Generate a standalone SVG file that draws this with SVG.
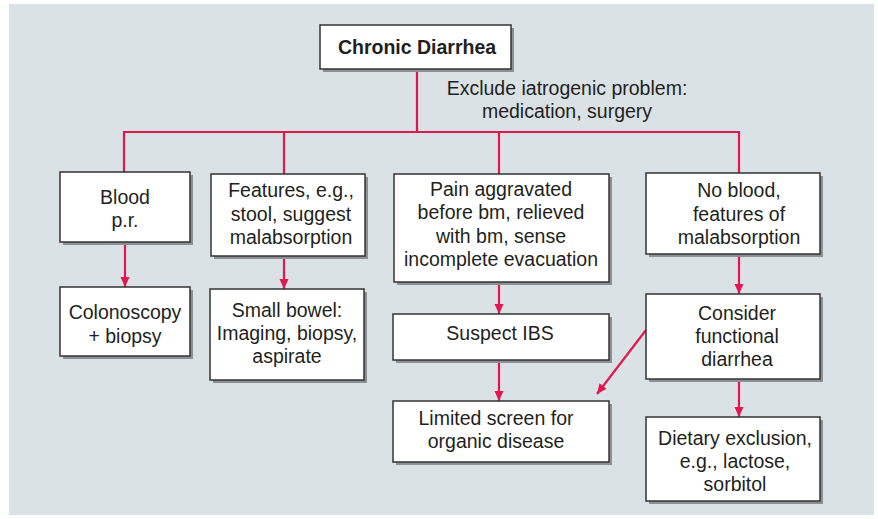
<svg xmlns="http://www.w3.org/2000/svg" width="878" height="519" viewBox="0 0 878 519">
  <defs>
    <marker id="arrow" viewBox="0 0 10 10" refX="10" refY="5" markerWidth="10" markerHeight="10" markerUnits="userSpaceOnUse" orient="auto">
      <path d="M0,0.5 L10,5 L0,9.5 Z" fill="#e3174f"/>
    </marker>
  </defs>
  <style>
    .panel { fill: #dae2e6; }
    .shadow { fill: #8c9094; }
    .box { fill: #ffffff; stroke: #333333; stroke-width: 1.5; }
    .txt { font-family: "Liberation Sans", Arial, sans-serif; font-size: 19.5px; fill: #231f20; text-anchor: middle; }
    .bold { font-weight: bold; }
    .wire { fill: none; stroke: #e3174f; stroke-width: 2.2; }
    .arr { marker-end: url(#arrow); }
  </style>

  <rect class="panel" x="9" y="4" width="865" height="511"/>

  <!-- connectors -->
  <g id="connectors">
    <path class="wire" d="M417,69 V132 M124,132 H740 M124,131 V172 M284,131 V174 M499,131 V174 M739,131 V173"/>
    <path class="wire arr" d="M125,243 V287"/>
    <path class="wire arr" d="M284,257 V289"/>
    <path class="wire arr" d="M499,283 V314"/>
    <path class="wire arr" d="M499,361 V401"/>
    <path class="wire arr" d="M739,255 V294"/>
    <path class="wire arr" d="M739,380 V417"/>
    <path class="wire arr" d="M646,330 L597,394"/>
  </g>

  <text class="txt" x="567" y="95">Exclude iatrogenic problem:</text>
  <text class="txt" x="567" y="118">medication, surgery</text>

  <g id="chronic-diarrhea">
    <rect class="shadow" x="323" y="28" width="191" height="44"/>
    <rect class="box" x="320" y="25" width="191" height="44"/>
    <text class="txt bold" x="417" y="54">Chronic Diarrhea</text>
  </g>

  <g id="blood">
    <rect class="shadow" x="63" y="175" width="130" height="70"/>
    <rect class="box" x="60" y="172" width="130" height="70"/>
    <text class="txt" x="125" y="204">Blood</text>
    <text class="txt" x="125" y="227">p.r.</text>
  </g>

  <g id="features">
    <rect class="shadow" x="214" y="177" width="154" height="82"/>
    <rect class="box" x="211" y="174" width="154" height="82"/>
    <text class="txt" x="291" y="197">Features, e.g.,</text>
    <text class="txt" x="291" y="221">stool, suggest</text>
    <text class="txt" x="291" y="244">malabsorption</text>
  </g>

  <g id="pain">
    <rect class="shadow" x="397" y="177" width="215" height="108"/>
    <rect class="box" x="394" y="174" width="215" height="108"/>
    <text class="txt" x="501" y="196">Pain aggravated</text>
    <text class="txt" x="501" y="219">before bm, relieved</text>
    <text class="txt" x="501" y="243">with bm, sense</text>
    <text class="txt" x="501" y="266">incomplete evacuation</text>
  </g>

  <g id="no-blood">
    <rect class="shadow" x="649" y="176" width="174" height="81"/>
    <rect class="box" x="646" y="173" width="174" height="81"/>
    <text class="txt" x="739" y="197">No blood,</text>
    <text class="txt" x="739" y="221">features of</text>
    <text class="txt" x="739" y="244">malabsorption</text>
  </g>

  <g id="colonoscopy">
    <rect class="shadow" x="63" y="290" width="130" height="69"/>
    <rect class="box" x="60" y="287" width="130" height="69"/>
    <text class="txt" x="125" y="319">Colonoscopy</text>
    <text class="txt" x="125" y="343">+ biopsy</text>
  </g>

  <g id="small-bowel">
    <rect class="shadow" x="213" y="292" width="154" height="91"/>
    <rect class="box" x="210" y="289" width="154" height="91"/>
    <text class="txt" x="287" y="317">Small bowel:</text>
    <text class="txt" x="287" y="340">Imaging, biopsy,</text>
    <text class="txt" x="287" y="363">aspirate</text>
  </g>

  <g id="suspect-ibs">
    <rect class="shadow" x="396" y="317" width="216" height="46"/>
    <rect class="box" x="393" y="314" width="216" height="46"/>
    <text class="txt" x="500" y="340">Suspect IBS</text>
  </g>

  <g id="limited-screen">
    <rect class="shadow" x="396" y="404" width="216" height="61"/>
    <rect class="box" x="393" y="401" width="216" height="61"/>
    <text class="txt" x="496" y="425">Limited screen for</text>
    <text class="txt" x="496" y="448">organic disease</text>
  </g>

  <g id="functional">
    <rect class="shadow" x="649" y="297" width="174" height="85"/>
    <rect class="box" x="646" y="294" width="174" height="85"/>
    <text class="txt" x="737" y="320">Consider</text>
    <text class="txt" x="737" y="343">functional</text>
    <text class="txt" x="737" y="366">diarrhea</text>
  </g>

  <g id="dietary">
    <rect class="shadow" x="649" y="420" width="174" height="84"/>
    <rect class="box" x="646" y="417" width="174" height="84"/>
    <text class="txt" x="735" y="445">Dietary exclusion,</text>
    <text class="txt" x="735" y="468">e.g., lactose,</text>
    <text class="txt" x="735" y="491">sorbitol</text>
  </g>
</svg>
